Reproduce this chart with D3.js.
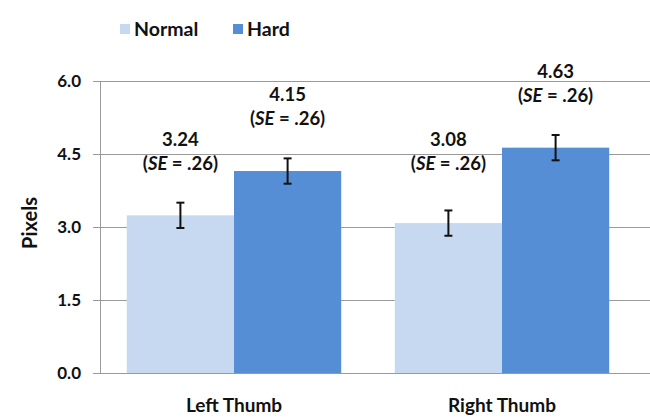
<!DOCTYPE html>
<html><head><meta charset="utf-8">
<script src="https://cdn.jsdelivr.net/npm/d3@7"></script>
<style>
html,body{margin:0;padding:0;background:#fff;}
svg{display:block;}
text{font-family:Lato,"Open Sans",sans-serif;font-weight:700;fill:#111;}
</style></head><body>
<svg id="chart" width="650" height="418"></svg>
<script>
const categories = ["Left Thumb", "Right Thumb"];
const seriesNames = ["Normal", "Hard"];
const normalValues = [3.24, 3.08];
const hardValues = [4.15, 4.63];
const normalSE = [0.26, 0.26];
const hardSE = [0.26, 0.26];
const yTicks = [0, 1.5, 3.0, 4.5, 6.0];
const colors = ["#c6d9f0", "#558ed5"];

const svg = d3.select("#chart");
const yTop = 81, yBottom = 373, xLeft = 100, xRight = 636;

const y = d3.scaleLinear().domain([0, 6]).range([yBottom, yTop]);
const x0 = d3.scaleBand().domain(categories).range([xLeft, xRight]).paddingInner(0.2).paddingOuter(0.1);
const x1 = d3.scaleBand().domain(seriesNames).range([0, x0.bandwidth()]);

// gridlines
svg.append("g").selectAll("line").data(yTicks).join("line")
  .attr("x1", xLeft - 7).attr("x2", 650)
  .attr("y1", d => Math.round(y(d)) + 0.5).attr("y2", d => Math.round(y(d)) + 0.5)
  .attr("stroke", "#9a9a9a").attr("stroke-width", 1);

// y axis line
svg.append("line").attr("x1", xLeft + 0.5).attr("x2", xLeft + 0.5)
  .attr("y1", yTop).attr("y2", yBottom + 0.5).attr("stroke", "#9a9a9a");

// y tick labels
svg.append("g").selectAll("text").data(yTicks).join("text")
  .attr("x", 81).attr("y", d => y(d)).attr("dy", "0.36em")
  .attr("text-anchor", "end").style("font-size", "17px")
  .text(d3.format(".1f"));

// y axis title
svg.append("text").attr("transform", "translate(37,223) rotate(-90)")
  .attr("text-anchor", "middle").style("font-size", "20px").text("Pixels");

const data = categories.map((c, i) => ({
  cat: c,
  vals: [
    {s: "Normal", v: normalValues[i], se: normalSE[i]},
    {s: "Hard", v: hardValues[i], se: hardSE[i]}
  ]
}));

const groups = svg.append("g").selectAll("g").data(data).join("g")
  .attr("transform", d => `translate(${x0(d.cat)},0)`);

groups.selectAll("rect").data(d => d.vals).join("rect")
  .attr("x", d => x1(d.s)).attr("width", x1.bandwidth())
  .attr("y", d => y(d.v)).attr("height", d => y(0) - y(d.v))
  .attr("fill", (d, i) => colors[i]);

// error bars
const eb = groups.selectAll("g.eb").data(d => d.vals).join("g").attr("class", "eb")
  .attr("transform", d => `translate(${x1(d.s) + x1.bandwidth() / 2},0)`);
eb.append("line").attr("x1", 0).attr("x2", 0)
  .attr("y1", d => y(d.v + d.se)).attr("y2", d => y(d.v - d.se))
  .attr("stroke", "#111").attr("stroke-width", 2);
eb.append("line").attr("x1", -4).attr("x2", 4)
  .attr("y1", d => y(d.v + d.se)).attr("y2", d => y(d.v + d.se))
  .attr("stroke", "#111").attr("stroke-width", 2);
eb.append("line").attr("x1", -4).attr("x2", 4)
  .attr("y1", d => y(d.v - d.se)).attr("y2", d => y(d.v - d.se))
  .attr("stroke", "#111").attr("stroke-width", 2);

// value labels
const lab = groups.selectAll("text.val").data(d => d.vals).join("text").attr("class", "val")
  .attr("text-anchor", "middle").style("font-size", "18.5px")
  .attr("x", d => x1(d.s) + x1.bandwidth() / 2);
lab.append("tspan").attr("x", d => x1(d.s) + x1.bandwidth() / 2)
  .attr("y", d => Math.min(y(d.v + d.se), 203) - 57).text(d => d3.format(".2f")(d.v));
const l2 = lab.append("tspan").attr("x", d => x1(d.s) + x1.bandwidth() / 2)
  .attr("y", d => Math.min(y(d.v + d.se), 203) - 33);
l2.append("tspan").text("(");
l2.append("tspan").style("font-style", "italic").text("SE");
l2.append("tspan").text(d => " = " + d3.format(".2f")(d.se).replace(/^0/, "") + ")");

// x category labels
svg.append("g").selectAll("text").data(categories).join("text")
  .attr("x", d => x0(d) + x0.bandwidth() / 2).attr("y", 412)
  .attr("text-anchor", "middle").style("font-size", "19px").text(d => d);

// legend
const legendX = [120, 233];
const lg = svg.append("g").selectAll("g").data(seriesNames).join("g")
  .attr("transform", (d, i) => `translate(${legendX[i]},24)`);
lg.append("rect").attr("width", 10).attr("height", 10).attr("fill", (d, i) => colors[i]);
lg.append("text").attr("x", 14).attr("y", 5).attr("dy", "0.36em")
  .style("font-size", "19.5px").text(d => d);
</script>
</body></html>
